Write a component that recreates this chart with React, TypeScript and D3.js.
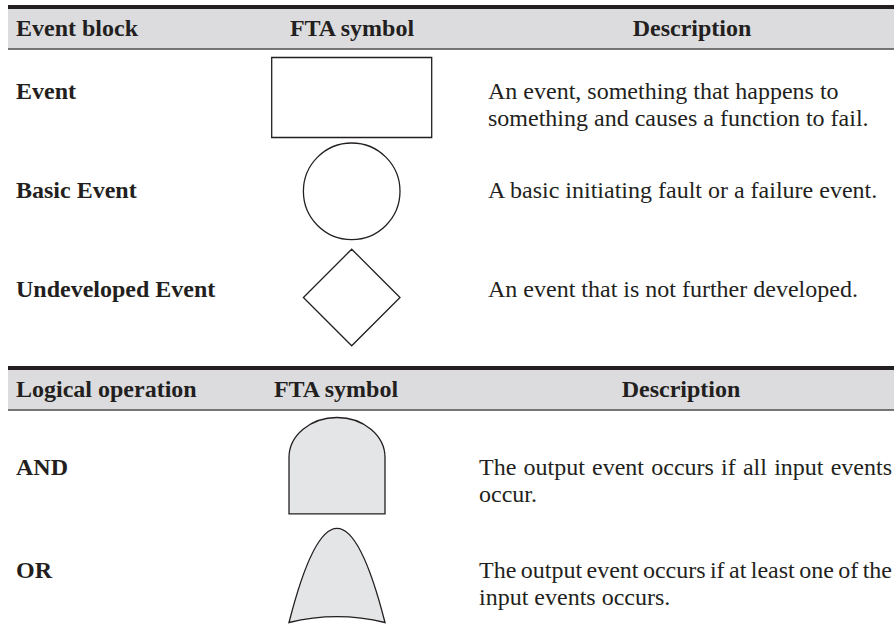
import React, { useEffect, useRef } from "react";
import * as d3 from "d3";

// table contents
const eventHeaders = ["Event block", "FTA symbol", "Description"];
const eventLabels = ["Event", "Basic Event", "Undeveloped Event"];
const eventSymbols = ["rect", "circle", "diamond"];
const eventDescriptions = [
  ["An event, something that happens to", "something and causes a function to fail."],
  ["A basic initiating fault or a failure event."],
  ["An event that is not further developed."],
];

const logicHeaders = ["Logical operation", "FTA symbol", "Description"];
const logicLabels = ["AND", "OR"];
const logicSymbols = ["and", "or"];
const logicDescriptions = [
  ["The output event occurs if all input events", "occur."],
  ["The output event occurs if at least one of the", "input events occurs."],
];

const W = 894;
const H = 625;
const ink = "#231f20";
const font = "'Liberation Serif', 'Times New Roman', serif";

// builds the outline of a symbol around (cx, y) where y is the row baseline
function symbolPath(kind: string, cx: number, y: number): string {
  const p = d3.path();
  if (kind === "rect") {
    p.rect(cx - 80, y - 41.5, 160, 80);
  } else if (kind === "circle") {
    p.arc(cx, y - 6.7, 48.3, 0, Math.PI * 2);
  } else if (kind === "diamond") {
    const cy = y + 0.5;
    p.moveTo(cx, cy - 48.3);
    p.lineTo(cx + 48.3, cy);
    p.lineTo(cx, cy + 48.3);
    p.lineTo(cx - 48.3, cy);
    p.closePath();
  } else if (kind === "and") {
    const top = y - 57, sh = y - 17, bot = y + 39.3;
    p.moveTo(cx - 48, bot);
    p.lineTo(cx - 48, sh);
    p.bezierCurveTo(cx - 48, sh - 22, cx - 26.5, top, cx, top);
    p.bezierCurveTo(cx + 26.5, top, cx + 48, sh - 22, cx + 48, sh);
    p.lineTo(cx + 48, bot);
    p.closePath();
  } else if (kind === "or") {
    // parabolic sides meeting at a rounded tip, concave base
    const top = y - 50, bot = y + 44.2;
    p.moveTo(cx - 48, bot);
    p.quadraticCurveTo(cx - 24, top, cx, top);
    p.quadraticCurveTo(cx + 24, top, cx + 48, bot);
    p.quadraticCurveTo(cx, bot - 11.6, cx - 48, bot);
    p.closePath();
  }
  return p.toString();
}

type TableProps = {
  top: number;
  headers: string[];
  headerX: number[];
  labels: string[];
  symbols: string[];
  descriptions: string[][];
  rowRange: [number, number];
  symbolX: number;
  descX: number;
  fill: string;
  justify: boolean;
};

function Table(props: TableProps) {
  const { top, headers, headerX, labels, symbols, descriptions, rowRange, symbolX, descX, fill, justify } = props;
  const row = d3.scalePoint<string>().domain(labels).range(rowRange);
  return (
    <g>
      <rect x={8} y={top + 4} width={W - 8} height={39.5} fill="#dcdcde" />
      <line x1={8} x2={W} y1={top + 2} y2={top + 2} stroke={ink} strokeWidth={4} />
      <line x1={8} x2={W} y1={top + 44} y2={top + 44} stroke="#4a4a4a" strokeWidth={1.5} />
      {headers.map((h, i) => (
        <text key={h + i} x={headerX[i]} y={top + 30.5} fontWeight="bold"
          textAnchor={i === 0 ? "start" : "middle"}>{h}</text>
      ))}
      {labels.map((lab, i) => {
        const y = row(lab) as number;
        return (
          <g key={lab}>
            <text x={16} y={y} fontWeight="bold">{lab}</text>
            <path d={symbolPath(symbols[i], symbolX, y)} fill={fill} stroke={ink} strokeWidth={1.3} />
            {descriptions[i].map((line, j) => (
              <text key={j} x={descX} y={y + j * 27}
                className={justify && j < descriptions[i].length - 1 ? "justify" : ""}>{line}</text>
            ))}
          </g>
        );
      })}
    </g>
  );
}

export default function App() {
  const ref = useRef<SVGSVGElement>(null);

  useEffect(() => {
    // spread words of justified lines out to the right margin
    d3.select(ref.current).selectAll<SVGTextElement, unknown>("text.justify").each(function () {
      const el = d3.select(this);
      el.attr("word-spacing", null);
      const len = this.getComputedTextLength();
      const x = +el.attr("x");
      const spaces = (this.textContent || "").split(" ").length - 1;
      if (spaces > 0) el.attr("word-spacing", (892 - x - len) / spaces);
    });
  }, []);

  return (
    <svg ref={ref} width={W} height={H} viewBox={`0 0 ${W} ${H}`}
      style={{ position: "absolute", left: 0, top: 0, background: "#fff" }}
      fontFamily={font} fontSize={24} fill={ink}>
      <Table top={5} headers={eventHeaders} headerX={[16, 352, 692]} labels={eventLabels}
        symbols={eventSymbols} descriptions={eventDescriptions} rowRange={[99, 297]}
        symbolX={351.7} descX={488} fill="#fff" justify={false} />
      <Table top={366} headers={logicHeaders} headerX={[16, 336, 681]} labels={logicLabels}
        symbols={logicSymbols} descriptions={logicDescriptions} rowRange={[474.5, 578.3]}
        symbolX={337} descX={479} fill="#e4e5e7" justify={true} />
    </svg>
  );
}
